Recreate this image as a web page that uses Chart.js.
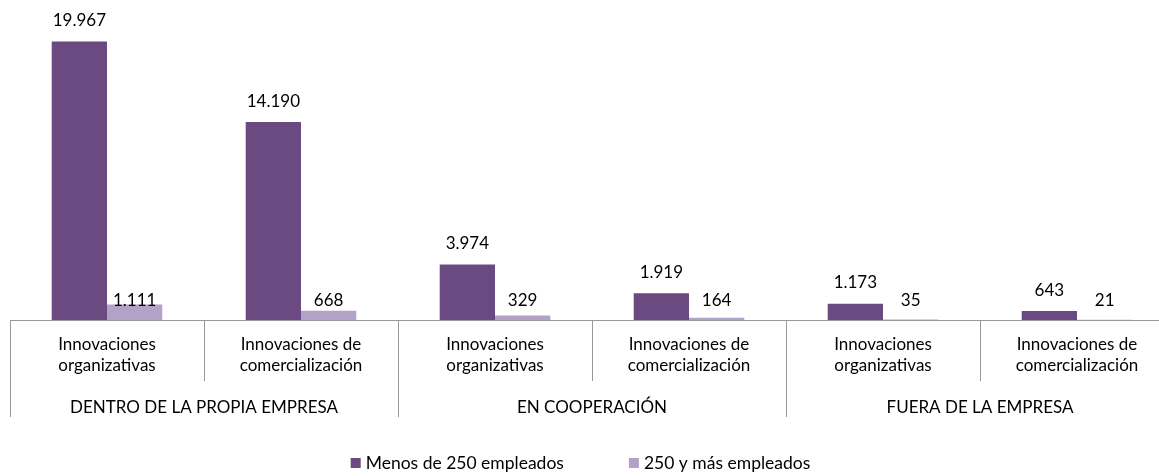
<!DOCTYPE html>
<html>
<head>
<meta charset="utf-8">
<script src="https://cdn.jsdelivr.net/npm/chart.js@4/dist/chart.umd.min.js"></script>
<style>
  html, body { margin: 0; padding: 0; background: #ffffff; overflow: hidden; }
  #wrap { width: 1175px; height: 476px; }
</style>
</head>
<body>
<div id="wrap"><canvas id="chart" width="1175" height="476"></canvas></div>
<script>
// categories (two lines each) and their groups
const categories = [
  ["Innovaciones", "organizativas"],
  ["Innovaciones de", "comercialización"],
  ["Innovaciones", "organizativas"],
  ["Innovaciones de", "comercialización"],
  ["Innovaciones", "organizativas"],
  ["Innovaciones de", "comercialización"],
];
const groups = ["DENTRO DE LA PROPIA EMPRESA", "EN COOPERACIÓN", "FUERA DE LA EMPRESA"];

// series
const seriesNames = ["Menos de 250 empleados", "250 y más empleados"];
const menos250 = [19967, 14190, 3974, 1919, 1173, 643];
const mas250 = [1111, 668, 329, 164, 35, 21];

const seriesColors = ["#6a4a80", "#b3a2c7"];
const lineColor = "#999999";
const fontFamily = "Lato, 'Open Sans', sans-serif";
const fontSize = 17;

// 19967 -> "19.967"
const fmt = (v) => String(v).replace(/\B(?=(\d{3})+(?!\d))/g, ".");

// value labels above bars
const valueLabels = {
  id: "valueLabels",
  afterDatasetsDraw(chart) {
    const ctx = chart.ctx;
    ctx.save();
    ctx.font = fontSize + "px " + fontFamily;
    ctx.fillStyle = "#000000";
    ctx.textAlign = "center";
    ctx.textBaseline = "middle";
    chart.data.datasets.forEach((ds, di) => {
      const meta = chart.getDatasetMeta(di);
      meta.data.forEach((bar, i) => {
        // the small series keeps its labels at one height just above the axis
        const y = di === 0 ? bar.y - 21 : bar.base - 19;
        ctx.fillText(fmt(ds.data[i]), bar.x, y);
      });
    });
    ctx.restore();
  },
};

// axis line, category separators, group labels and legend
const axisExtras = {
  id: "axisExtras",
  afterDraw(chart) {
    const ctx = chart.ctx;
    const area = chart.chartArea;
    const xs = chart.scales.x;
    const n = chart.data.labels.length;
    const w = (area.right - area.left) / n;
    ctx.save();
    ctx.strokeStyle = lineColor;
    ctx.lineWidth = 1;
    ctx.beginPath();
    ctx.moveTo(area.left, area.bottom + 0.5);
    ctx.lineTo(area.right, area.bottom + 0.5);
    for (let i = 0; i <= n; i++) {
      const x = Math.round(area.left + i * w) + 0.5;
      const len = i % 2 === 0 ? 97 : 61;
      ctx.moveTo(x, area.bottom);
      ctx.lineTo(x, area.bottom + len);
    }
    ctx.stroke();

    ctx.font = fontSize + "px " + fontFamily;
    ctx.fillStyle = "#000000";
    ctx.textAlign = "center";
    ctx.textBaseline = "middle";
    groups.forEach((g, k) => {
      const cx = (xs.getPixelForTick(2 * k) + xs.getPixelForTick(2 * k + 1)) / 2;
      ctx.fillText(g, cx, area.bottom + 88);
    });

    // legend
    const box = 10, gapText = 5, gapItems = 65;
    ctx.font = "17.5px " + fontFamily;
    const widths = seriesNames.map((s) => box + gapText + ctx.measureText(s).width);
    const total = widths.reduce((a, b) => a + b, 0) + gapItems * (widths.length - 1);
    let lx = chart.width / 2 - 7 - total / 2;
    const ly = 463;
    ctx.textAlign = "left";
    seriesNames.forEach((s, i) => {
      ctx.fillStyle = seriesColors[i];
      ctx.fillRect(lx, ly - box / 2, box, box);
      ctx.fillStyle = "#000000";
      ctx.fillText(s, lx + box + gapText, ly);
      lx += widths[i] + gapItems;
    });
    ctx.restore();
  },
};

new Chart(document.getElementById("chart"), {
  type: "bar",
  plugins: [valueLabels, axisExtras],
  data: {
    labels: categories,
    datasets: [
      { label: seriesNames[0], data: menos250, backgroundColor: seriesColors[0] },
      { label: seriesNames[1], data: mas250, backgroundColor: seriesColors[1] },
    ],
  },
  options: {
    responsive: false,
    animation: false,
    layout: { padding: { left: 10, right: 1, top: 41, bottom: 0 } },
    datasets: { bar: { categoryPercentage: 0.57, barPercentage: 1 } },
    plugins: { legend: { display: false }, tooltip: { enabled: false } },
    scales: {
      x: {
        grid: { display: false, drawTicks: false },
        border: { display: false },
        ticks: {
          color: "#000000",
          font: { family: fontFamily, size: fontSize, lineHeight: "21px" },
          padding: 14,
          maxRotation: 0,
          autoSkip: false,
        },
        afterFit: (s) => { s.height = 156; },
      },
      y: { display: false, min: 0, max: 20000 },
    },
  },
});
</script>
</body>
</html>
